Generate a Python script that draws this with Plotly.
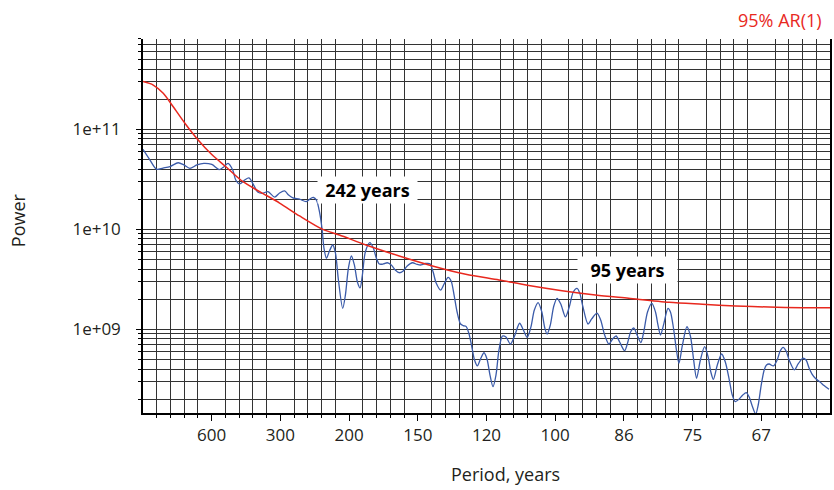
import math
import plotly.graph_objects as go

# Spectrum of the record: frequency (cycles per year) and power
freq = [
    0.0, 0.000169, 0.000331, 0.000484, 0.000653, 0.000854, 0.000992, 0.001137,
    0.001306, 0.001476, 0.001669, 0.001850, 0.001959, 0.002063, 0.002177, 0.002250,
    0.002346, 0.002467, 0.002571, 0.002685, 0.002782, 0.002896, 0.003031, 0.003193,
    0.003314, 0.003435, 0.003532, 0.003636, 0.003798, 0.003960, 0.004064, 0.004136,
    0.004209, 0.004282, 0.004347, 0.004390, 0.004451, 0.004523, 0.004603, 0.004669,
    0.004741, 0.004845, 0.004910, 0.004983, 0.005056, 0.005128, 0.005201, 0.005266,
    0.005322, 0.005394, 0.005503, 0.005588, 0.005660, 0.005733, 0.005830, 0.005926,
    0.006023, 0.006120, 0.006217, 0.006313, 0.006410, 0.006538, 0.006652, 0.006749,
    0.006846, 0.006906, 0.006967, 0.007039, 0.007112, 0.007221, 0.007305, 0.007402,
    0.007475, 0.007547, 0.007620, 0.007704, 0.007765, 0.007837, 0.007910, 0.007983,
    0.008043, 0.008111, 0.008188, 0.008273, 0.008345, 0.008418, 0.008491, 0.008563,
    0.008636, 0.008720, 0.008805, 0.008914, 0.009023, 0.009136, 0.009228, 0.009320,
    0.009410, 0.009494, 0.009586, 0.009676, 0.009748, 0.009804, 0.009881, 0.009966,
    0.010046, 0.010135, 0.010249, 0.010341, 0.010438, 0.010530, 0.010595, 0.010668,
    0.010796, 0.010885, 0.011014, 0.011103, 0.011200, 0.011304, 0.011393, 0.011478,
    0.011563, 0.011684, 0.011756, 0.011829, 0.011909, 0.011986, 0.012078, 0.012143,
    0.012240, 0.012344, 0.012433, 0.012494, 0.012554, 0.012627, 0.012736, 0.012796,
    0.012869, 0.012941, 0.013002, 0.013087, 0.013195, 0.013280, 0.013353, 0.013430,
    0.013522, 0.013626, 0.013716, 0.013776, 0.013837, 0.013933, 0.014037, 0.014127,
    0.014224, 0.014296, 0.014369, 0.014465, 0.014550, 0.014635, 0.014707, 0.014780,
    0.014864, 0.014925, 0.014998, 0.015070, 0.015126, 0.015191, 0.015295, 0.015385,
    0.015457, 0.015530, 0.015602, 0.015675, 0.015803, 0.015893, 0.016006, 0.016086,
    0.016159, 0.016231, 0.016316, 0.016425, 0.016522, 0.016643,
]
power = [
    6.3e10, 4.93e10, 3.98e10, 4.10e10, 4.23e10, 4.63e10, 4.40e10, 4.07e10,
    4.40e10, 4.57e10, 4.45e10, 3.96e10, 4.20e10, 4.57e10, 3.92e10, 3.11e10,
    2.84e10, 3.11e10, 3.26e10, 2.77e10, 2.36e10, 2.29e10, 2.38e10, 2.10e10,
    2.31e10, 2.42e10, 2.20e10, 2.06e10, 2.00e10, 1.89e10, 2.03e10, 2.08e10,
    1.96e10, 1.49e10, 9.84e9, 6.50e9, 5.13e9, 6.07e9, 6.97e9, 5.79e9,
    3.11e9, 1.62e9, 2.20e9, 4.10e9, 5.41e9, 4.40e9, 2.97e9, 2.59e9,
    3.49e9, 5.93e9, 7.35e9, 6.50e9, 5.16e9, 4.50e9, 4.50e9, 4.63e9,
    4.40e9, 3.92e9, 3.68e9, 3.83e9, 4.30e9, 4.63e9, 4.45e9, 4.40e9,
    4.55e9, 4.57e9, 4.50e9, 3.74e9, 2.90e9, 2.47e9, 2.84e9, 3.30e9,
    3.04e9, 2.20e9, 1.49e9, 1.13e9, 1.09e9, 1.07e9, 8.97e8, 6.50e8,
    4.93e8, 4.30e8, 5.05e8, 5.83e8, 5.05e8, 3.49e8, 2.67e8, 3.49e8,
    6.21e8, 8.57e8, 8.38e8, 7.13e8, 8.77e8, 1.15e9, 9.84e8, 8.32e8,
    1.05e9, 1.56e9, 1.85e9, 1.49e9, 1.03e9, 8.97e8, 1.10e9, 1.71e9,
    2.04e9, 1.79e9, 1.33e9, 1.67e9, 2.36e9, 2.57e9, 2.31e9, 1.71e9,
    1.13e9, 1.27e9, 1.45e9, 1.24e9, 8.77e8, 7.13e8, 8.00e8, 8.57e8,
    7.46e8, 6.11e8, 7.29e8, 9.40e8, 1.03e9, 8.77e8, 7.35e8, 9.18e8,
    1.49e9, 1.82e9, 1.49e9, 1.10e9, 8.77e8, 1.10e9, 1.62e9, 1.49e9,
    1.03e9, 6.21e8, 4.57e8, 6.97e8, 1.06e9, 8.57e8, 5.16e8, 3.24e8,
    4.93e8, 6.70e8, 5.16e8, 3.74e8, 3.16e8, 4.40e8, 5.66e8, 4.71e8,
    3.11e8, 2.20e8, 1.89e8, 2.01e8, 2.20e8, 2.33e8, 2.10e8, 1.71e8,
    1.42e8, 1.75e8, 2.77e8, 3.92e8, 4.40e8, 4.50e8, 4.30e8, 4.93e8,
    6.07e8, 6.61e8, 6.07e8, 4.93e8, 3.92e8, 4.50e8, 5.13e8, 4.93e8,
    4.10e8, 3.57e8, 3.22e8, 2.97e8, 2.74e8, 2.51e8,
]

# 95% significance level of the AR(1) red-noise background
ar1_freq = [
    0.0, 0.000249, 0.000491, 0.000733, 0.001016, 0.001338, 0.001662, 0.002025,
    0.002426, 0.002830, 0.003314, 0.003798, 0.004361, 0.004765, 0.005411, 0.006217,
    0.007022, 0.007830, 0.008636, 0.009361, 0.010167, 0.010975, 0.011780, 0.012765,
    0.013570, 0.014376, 0.015184, 0.015989, 0.016667,
]
ar1_power = [
    3.0e11, 2.77e11, 2.29e11, 1.68e11, 1.15e11, 7.82e10, 5.62e10, 4.17e10,
    2.99e10, 2.38e10, 1.83e10, 1.36e10, 9.98e9, 8.77e9, 6.97e9, 5.41e9,
    4.30e9, 3.55e9, 3.11e9, 2.74e9, 2.43e9, 2.20e9, 2.04e9, 1.86e9,
    1.78e9, 1.71e9, 1.67e9, 1.64e9, 1.64e9,
]

# Period axis: ticks every 1/600 cycles per year, labelled in years
tick_freq = [k / 600 for k in range(1, 10)]
tick_text = ["600", "300", "200", "150", "120", "100", "86", "75", "67"]
minor_freq = [k / 3000 for k in range(1, 51) if k % 5]

power_ticks = [1e9, 1e10, 1e11]
power_text = ["1e+09", "1e+10", "1e+11"]
power_minor = [m * 10 ** e for e in range(8, 12) for m in range(2, 10)]

# Highlighted peaks (period in years) and label heights
peak_periods = [242, 95]
peak_label_power = [2.5e10, 3.92e9]

FONT = "Open Sans"
GRID = "#333333"
INK = "#231f20"

fig = go.Figure()
fig.add_trace(go.Scatter(
    x=freq, y=power, mode="lines",
    line=dict(color="#3b5ba9", width=1.3, shape="spline", smoothing=0.8),
    hoverinfo="skip",
))
fig.add_trace(go.Scatter(
    x=ar1_freq, y=ar1_power, mode="lines",
    line=dict(color="#e8281e", width=1.5, shape="spline", smoothing=0.8),
    hoverinfo="skip",
))

for p, pw, shift in zip(peak_periods, peak_label_power, [4, 0]):
    fig.add_annotation(
        x=1 / p, y=math.log10(pw), xref="x", yref="y",
        text=f"<b>{p} years</b>", showarrow=False,
        xanchor="left", yanchor="middle", xshift=shift,
        font=dict(family=FONT, size=18, color="#000000"),
        bgcolor="white", width=95, height=22, borderpad=2, align="center",
    )

fig.add_annotation(
    x=(506.7 - 143) / 689, y=(412.7 - 474) / 374, xref="paper", yref="paper",
    text="Period, years", showarrow=False, xanchor="center", yanchor="middle",
    font=dict(family=FONT, size=18, color=INK),
)
fig.add_annotation(
    x=(17.5 - 143) / 689, y=(412.7 - 220) / 374, xref="paper", yref="paper",
    text="Power", showarrow=False, textangle=-90, xanchor="center", yanchor="middle",
    font=dict(family=FONT, size=18, color=INK),
)
fig.add_annotation(
    x=(826 - 143) / 689, y=(412.7 - 20) / 374, xref="paper", yref="paper",
    text="95% AR(1)", showarrow=False, xanchor="right", yanchor="middle",
    font=dict(family=FONT, size=18, color="#e8281e"),
)

fig.update_layout(
    width=834, height=490,
    margin=dict(l=143, r=2, t=39, b=77),
    paper_bgcolor="white", plot_bgcolor="white",
    showlegend=False,
    font=dict(family=FONT, size=17, color=INK),
    xaxis=dict(
        range=[0, 1 / 60], tickmode="array", tickvals=tick_freq, ticktext=tick_text,
        showgrid=False, zeroline=False,
        ticks="outside", ticklen=6, tickwidth=1.3, tickcolor="#000000",
        showline=True, linecolor="#000000", linewidth=1.5,
        ticklabelstandoff=0,
        tickfont=dict(family=FONT, size=17, color=INK),
        minor=dict(tickmode="array", tickvals=minor_freq, ticks="outside",
                   ticklen=3.5, tickwidth=1.1, tickcolor="#000000",
                   showgrid=True, gridcolor=GRID, gridwidth=1.3),
    ),
    yaxis=dict(
        type="log", range=[8.163, 11.903], tickmode="array",
        tickvals=power_ticks, ticktext=power_text,
        showgrid=True, gridcolor=GRID, gridwidth=1.3, zeroline=False,
        ticks="outside", ticklen=5, tickwidth=1.3, tickcolor="#000000",
        showline=True, linecolor="#000000", linewidth=1.5, mirror=True,
        ticklabelstandoff=12,
        tickfont=dict(family=FONT, size=17, color=INK),
        minor=dict(tickmode="array", tickvals=power_minor, ticks="outside",
                   ticklen=3.3, tickwidth=1.1, tickcolor="#000000",
                   showgrid=True, gridcolor=GRID, gridwidth=1.3),
    ),
)

fig.write_html("out.html")
